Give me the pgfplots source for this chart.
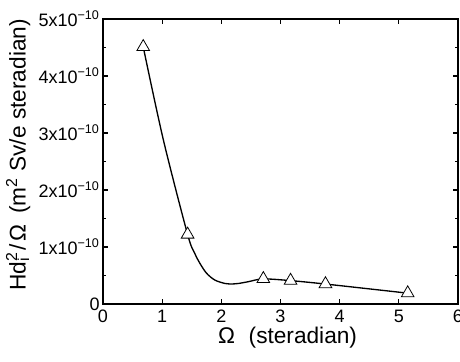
\documentclass[border=0pt]{standalone}
\usepackage{fontspec}
\setmainfont{Liberation Sans}
\usepackage{pgfplots}
\pgfplotsset{compat=1.18}
\begin{document}
\begin{tikzpicture}
\begin{axis}[
  name=ax,
  scale only axis,
  width=266.25pt, height=213.75pt,
  xmin=0, xmax=6, ymin=0, ymax=5e-10,
  xtick={0,1,2,3,4,5,6},
  ytick={0,1e-10,2e-10,3e-10,4e-10,5e-10},
  yticklabels={0,1x10\textsuperscript{−10},2x10\textsuperscript{−10},3x10\textsuperscript{−10},4x10\textsuperscript{−10},5x10\textsuperscript{−10}},
  scaled y ticks=false,
  minor y tick num=1,
  tick align=inside,
  tick pos=both,
  major tick length=4pt,
  minor tick length=2.5pt,
  axis line style={line width=0.8pt},
  every tick/.style={line width=0.8pt, black},
  /pgf/number format/assume math mode=true,
  tick label style={font=\fontsize{13.5}{15}\selectfont},
  yticklabel style={xshift=1pt},
  xticklabel style={yshift=-1pt},
  xlabel={Ω\hspace{0.6em}(steradian)},
  ylabel={Hd\rlap{\textsubscript{i}}\textsuperscript{2}\hspace{0.1em}/\hspace{0.1em}Ω\hspace{0.2em} (m\textsuperscript{2} Sv/e steradian)},
  label style={font=\fontsize{17}{19}\selectfont},
  xlabel style={at={(axis description cs:0.52,-0.119)}, anchor=center},
  ylabel style={at={(axis description cs:-0.239,0.523)}, anchor=center},
  clip=false,
]
\addplot[black, line width=1pt, smooth, tension=0.5, mark=none] coordinates {
  (0.68,4.51e-10) (1.02,2.88e-10) (1.43,1.22e-10) (1.55,0.89e-10)
  (1.64,0.71e-10) (1.75,0.54e-10) (1.89,0.42e-10) (2.06,0.36e-10)
  (2.15,0.35e-10) (2.29,0.36e-10) (2.45,0.39e-10) (2.71,0.44e-10)
  (3.17,0.41e-10) (3.76,0.35e-10) (5.15,0.19e-10)
};
\addplot[only marks, mark=triangle*, mark size=5.5pt,
  mark options={fill=white, draw=black, line width=0.6pt}] coordinates {
  (0.68,4.51e-10) (1.43,1.22e-10) (2.71,0.44e-10) (3.17,0.41e-10)
  (3.76,0.35e-10) (5.15,0.19e-10)
};
\end{axis}
\pgfresetboundingbox
\path[use as bounding box] ([xshift=-77.25pt,yshift=-43.5pt]ax.south west) rectangle ([xshift=1.5pt,yshift=14.25pt]ax.north east);
\end{tikzpicture}
\end{document}
